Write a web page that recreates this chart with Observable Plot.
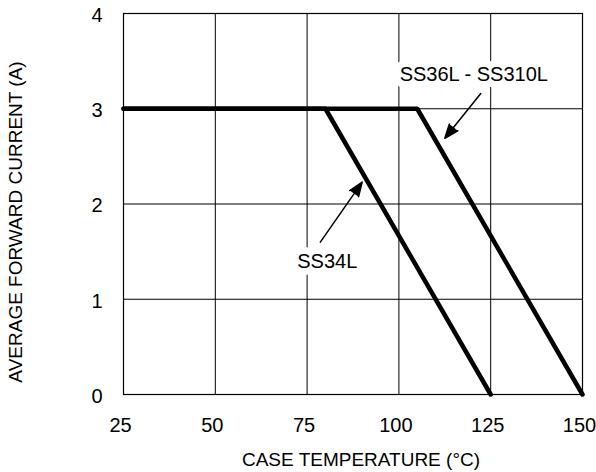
<!DOCTYPE html>
<html>
<head>
<meta charset="utf-8">
<script src="https://cdn.jsdelivr.net/npm/d3@7"></script>
<script src="https://cdn.jsdelivr.net/npm/@observablehq/plot@0.6"></script>
<style>
  html, body { margin: 0; padding: 0; background: #fff; }
</style>
</head>
<body>
<div id="chart"></div>
<script>
// Derating curves: case temperature (°C) vs average forward current (A)
const temps34 = [25, 80, 125];
const current34 = [3, 3, 0];
const temps36 = [25, 105, 150];
const current36 = [3, 3, 0];

const xTicks = [25, 50, 75, 100, 125, 150];
const yTicks = [0, 1, 2, 3, 4];

const xTitle = "CASE TEMPERATURE (°C)";
const yTitle = "AVERAGE FORWARD CURRENT (A)";

// Annotation labels and arrows (data coordinates)
const seriesLabels = ["SS34L", "SS36L - SS310L"];
const labelX = [80.5, 120.4];
const labelY = [1.40, 3.36];
const arrowFromX = [78.6, 122.3];
const arrowFromY = [1.60, 3.16];
const arrowToX = [90.0, 112.5];
const arrowToY = [2.23, 2.69];

const line34 = temps34.map((t, i) => ({t, a: current34[i]}));
const line36 = temps36.map((t, i) => ({t, a: current36[i]}));
const labels = seriesLabels.map((s, i) => ({s, x: labelX[i], y: labelY[i]}));
const arrows = arrowFromX.map((x1, i) => ({x1, y1: arrowFromY[i], x2: arrowToX[i], y2: arrowToY[i]}));

const chart = Plot.plot({
  width: 596,
  height: 472,
  marginLeft: 123,
  marginRight: 14,
  marginTop: 13,
  marginBottom: 78,
  style: {
    fontFamily: "'Liberation Sans', Arial, Helvetica, sans-serif",
    fontSize: "19px",
    color: "black",
    background: "white"
  },
  x: {domain: [25, 150]},
  y: {domain: [0, 4]},
  marks: [
    Plot.gridX(xTicks, {stroke: "black", strokeOpacity: 1, strokeWidth: 1}),
    Plot.gridY(yTicks, {stroke: "black", strokeOpacity: 1, strokeWidth: 1}),
    Plot.frame({stroke: "black", strokeWidth: 1.2}),
    Plot.axisX(xTicks, {tickSize: 0, tickPadding: 23, dx: -3, fontSize: 20, label: null, tickFormat: d3.format("d")}),
    Plot.axisY(yTicks, {tickSize: 0, tickPadding: 21, dy: 2, textAnchor: "end", fontSize: 20, label: null, tickFormat: d3.format("d")}),
    Plot.line(line34, {x: "t", y: "a", stroke: "black", strokeWidth: 4.5, strokeLinejoin: "miter", strokeLinecap: "round"}),
    Plot.line(line36, {x: "t", y: "a", stroke: "black", strokeWidth: 4.5, strokeLinejoin: "miter", strokeLinecap: "round"}),
    Plot.text(labels, {x: "x", y: "y", text: "s", fill: "black", stroke: "white", strokeWidth: 14, paintOrder: "stroke", fontSize: 20}),
    Plot.arrow(arrows, {x1: "x1", y1: "y1", x2: "x2", y2: "y2", stroke: "black", fill: "black", strokeWidth: 1.5, headLength: 15, headAngle: 42}),
    Plot.text([xTitle], {text: d => d, frameAnchor: "bottom", lineAnchor: "bottom", textAnchor: "middle", dx: 8, dy: 71.5, fill: "black", fontSize: 19}),
    Plot.text([yTitle], {text: d => d, frameAnchor: "left", lineAnchor: "middle", textAnchor: "middle", rotate: -90, dx: -107.5, dy: 18, fill: "black", fontSize: 19})
  ]
});

document.getElementById("chart").appendChild(chart);
</script>
</body>
</html>
